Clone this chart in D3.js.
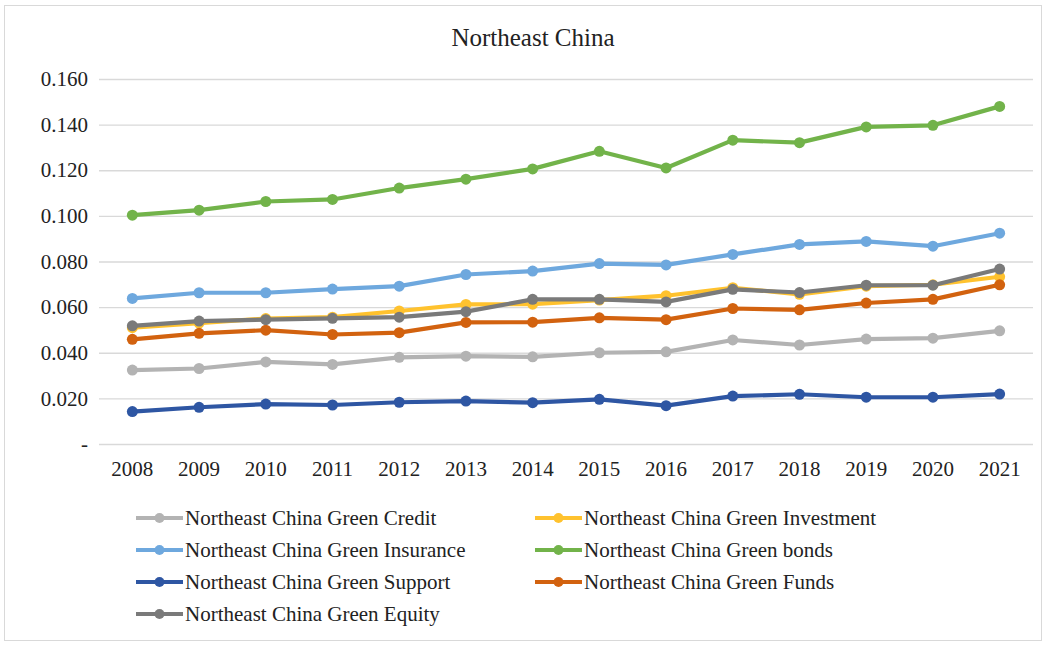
<!DOCTYPE html>
<html>
<head>
<meta charset="utf-8">
<script src="https://cdn.jsdelivr.net/npm/d3@7"></script>
<style>
  html, body { margin: 0; padding: 0; background: #fff; }
  svg { display: block; }
  text { font-family: "Liberation Serif", "Times New Roman", serif; fill: #222; }
</style>
</head>
<body>
<svg id="chart" width="1046" height="646"></svg>
<script>
// Years on the category axis
const years = ["2008","2009","2010","2011","2012","2013","2014","2015","2016","2017","2018","2019","2020","2021"];

// Index values per year for each green-finance dimension
const greenCredit     = [0.0324,0.0331,0.0360,0.0349,0.0380,0.0385,0.0382,0.0400,0.0404,0.0456,0.0434,0.0460,0.0464,0.0496];
const greenInvestment = [0.0510,0.0530,0.0550,0.0556,0.0583,0.0612,0.0613,0.0631,0.0650,0.0685,0.0656,0.0692,0.0698,0.0733];
const greenInsurance  = [0.0638,0.0663,0.0663,0.0679,0.0692,0.0743,0.0758,0.0791,0.0785,0.0831,0.0875,0.0888,0.0867,0.0924];
const greenBonds      = [0.1003,0.1025,0.1063,0.1072,0.1122,0.1161,0.1206,0.1283,0.1210,0.1332,0.1321,0.1390,0.1397,0.1480];
const greenSupport    = [0.0142,0.0161,0.0175,0.0171,0.0183,0.0188,0.0181,0.0196,0.0168,0.0210,0.0218,0.0205,0.0205,0.0219];
const greenFunds      = [0.0459,0.0485,0.0499,0.0480,0.0488,0.0533,0.0534,0.0553,0.0545,0.0594,0.0588,0.0618,0.0634,0.0698];
const greenEquity     = [0.0518,0.0539,0.0545,0.0551,0.0556,0.0580,0.0634,0.0634,0.0623,0.0678,0.0664,0.0696,0.0696,0.0767];

// Y-axis tick values and their labels
const yTicks = [0, 0.02, 0.04, 0.06, 0.08, 0.10, 0.12, 0.14, 0.16];
const yTickLabels = ["-", "0.020", "0.040", "0.060", "0.080", "0.100", "0.120", "0.140", "0.160"];

const seriesNames = [
  "Northeast China Green Credit",
  "Northeast China Green Investment",
  "Northeast China Green Insurance",
  "Northeast China Green bonds",
  "Northeast China Green Support",
  "Northeast China Green Funds",
  "Northeast China Green Equity"
];
const seriesValues = [greenCredit, greenInvestment, greenInsurance, greenBonds, greenSupport, greenFunds, greenEquity];
const seriesColors = ["#b3b3b3", "#ffc22e", "#6ea8de", "#72b34a", "#2e56a3", "#d2620f", "#7a7a7a"];

const series = seriesNames.map((name, i) => ({ name, color: seriesColors[i], values: seriesValues[i] }));

const svg = d3.select("#chart");

// chart frame
svg.append("rect")
  .attr("x", 4.5).attr("y", 5.5).attr("width", 1037).attr("height", 635)
  .attr("fill", "#fff").attr("stroke", "#d9d9d9").attr("stroke-width", 1);

const plot = { left: 99, right: 1033, top: 79, bottom: 444 };

const x = d3.scaleBand().domain(years).range([plot.left, plot.right]);
const y = d3.scaleLinear().domain([0, 0.16]).range([plot.bottom, plot.top]);

// title
svg.append("text")
  .attr("x", 533).attr("y", 46)
  .attr("text-anchor", "middle")
  .style("font-size", "25px")
  .text("Northeast China");

// horizontal gridlines with value labels
const yAxis = d3.axisLeft(y)
  .tickValues(yTicks)
  .tickSize(-(plot.right - plot.left))
  .tickPadding(11)
  .tickFormat((d, i) => yTickLabels[i]);

const gy = svg.append("g")
  .attr("transform", `translate(${plot.left},0)`)
  .call(yAxis);
gy.select(".domain").remove();
gy.selectAll(".tick line").attr("stroke", "#d9d9d9").attr("stroke-width", 1.3);
gy.selectAll(".tick text")
  .style("font-size", "21px")
  .attr("fill", "#222");

// category axis labels
const xAxis = d3.axisBottom(x).tickSize(0).tickPadding(17);
const gx = svg.append("g")
  .attr("transform", `translate(0,${plot.bottom})`)
  .call(xAxis);
gx.select(".domain").remove();
gx.selectAll(".tick text")
  .style("font-size", "21px")
  .attr("fill", "#222");

const xc = d => x(d) + x.bandwidth() / 2;

const line = d3.line()
  .x((d, i) => xc(years[i]))
  .y(d => y(d));

const lines = svg.append("g");
series.forEach(s => {
  const g = lines.append("g");
  g.append("path")
    .datum(s.values)
    .attr("fill", "none")
    .attr("stroke", s.color)
    .attr("stroke-width", 4.2)
    .attr("stroke-linejoin", "round")
    .attr("stroke-linecap", "round")
    .attr("d", line);
  g.selectAll("circle")
    .data(s.values)
    .join("circle")
    .attr("cx", (d, i) => xc(years[i]))
    .attr("cy", d => y(d))
    .attr("r", 5.5)
    .attr("fill", s.color);
});

// legend: two columns
const legendCols = [136, 535];
const legendRows = [518, 550, 582, 614];
const legend = svg.append("g");
series.forEach((s, i) => {
  const cx0 = legendCols[i % 2];
  const cy0 = legendRows[Math.floor(i / 2)];
  const item = legend.append("g").attr("transform", `translate(${cx0},${cy0})`);
  item.append("line")
    .attr("x1", 0).attr("x2", 47).attr("y1", 0).attr("y2", 0)
    .attr("stroke", s.color).attr("stroke-width", 4.2);
  item.append("circle").attr("cx", 23.5).attr("cy", 0).attr("r", 5).attr("fill", s.color);
  item.append("text")
    .attr("x", 49).attr("y", 7)
    .style("font-size", "21px")
    .text(s.name);
});
</script>
</body>
</html>
